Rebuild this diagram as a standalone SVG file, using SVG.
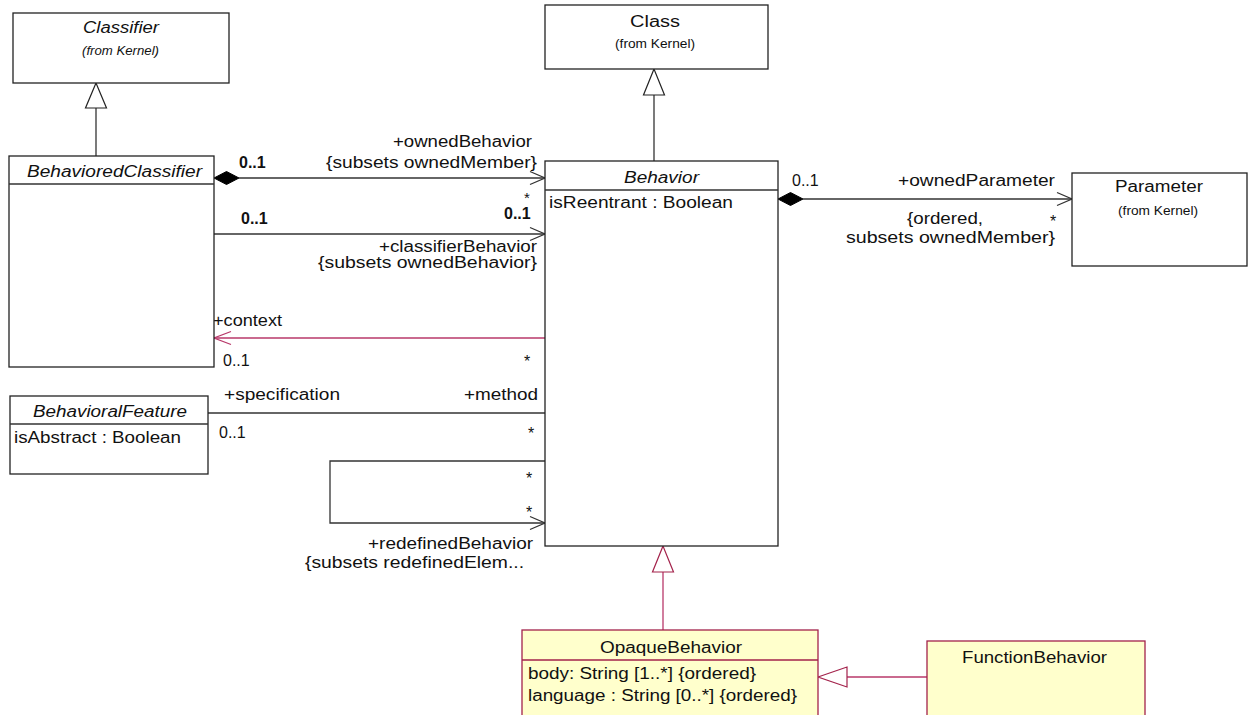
<svg xmlns="http://www.w3.org/2000/svg" width="1250" height="715" viewBox="0 0 1250 715">
<defs>
<style>
text{font-family:"Liberation Sans",Arial,sans-serif;font-size:16px;fill:#111}
.it{font-style:italic}
.sm{font-size:12px}
.b{font-weight:bold}
.ast{font-size:15px}
.box{fill:#fff;stroke:#222;stroke-width:1.3}
.ybox{fill:#ffffcc;stroke:#a3224b;stroke-width:1.3}
.ln{fill:none;stroke:#333;stroke-width:1.3}
.rl{fill:none;stroke:#b8386a;stroke-width:1.3}
.gen{fill:#fff;stroke:#222;stroke-width:1.2}
.rgen{fill:#fff;stroke:#a3224b;stroke-width:1.2}
.dia{fill:#000;stroke:#000;stroke-width:1}
</style>
</defs>
<rect width="1250" height="715" fill="#fff"/>

<g id="connectors">
  <!-- BehavioredClassifier -> Classifier generalization -->
  <line class="ln" x1="96" y1="108" x2="96" y2="156"/>
  <polygon class="gen" points="96,83 85.5,108 106.5,108"/>
  <!-- Behavior -> Class generalization -->
  <line class="ln" x1="654" y1="95" x2="654" y2="161"/>
  <polygon class="gen" points="654,69 643.5,95 664.5,95"/>
  <!-- ownedBehavior composition -->
  <line class="ln" x1="239" y1="178" x2="545" y2="178"/>
  <polygon class="dia" points="214,178 226.5,171.5 239,178 226.5,184.5"/>
  <polyline class="ln" points="530,171.5 545,178 530,184.5"/>
  <!-- classifierBehavior -->
  <line class="ln" x1="214" y1="234" x2="545" y2="234"/>
  <polyline class="ln" points="530,227.5 545,234 530,240.5"/>
  <!-- ownedParameter composition -->
  <line class="ln" x1="803" y1="199" x2="1072" y2="199"/>
  <polygon class="dia" points="778,199 790.5,192.5 803,199 790.5,205.5"/>
  <polyline class="ln" points="1057,192.5 1072,199 1057,205.5"/>
  <!-- context -->
  <line class="rl" x1="545" y1="338" x2="214" y2="338"/>
  <polyline class="rl" points="231,331.5 214,338 231,344.5"/>
  <!-- specification / method -->
  <line class="ln" x1="208" y1="413" x2="545" y2="413"/>
  <!-- redefinedBehavior self loop -->
  <polyline class="ln" points="545,461 330,461 330,523 545,523"/>
  <polyline class="ln" points="530,516.5 545,523 530,529.5"/>
  <!-- OpaqueBehavior -> Behavior generalization -->
  <line class="rl" x1="663" y1="572" x2="663" y2="630"/>
  <polygon class="rgen" points="663,546 652.5,572 673.5,572"/>
  <!-- FunctionBehavior -> OpaqueBehavior generalization -->
  <line class="rl" x1="847" y1="677" x2="927" y2="677"/>
  <polygon class="rgen" points="818,677 847,667 847,687"/>

  <!-- association labels -->
  <text x="393" y="147" textLength="139" lengthAdjust="spacingAndGlyphs">+ownedBehavior</text>
  <text x="326" y="168" textLength="211" lengthAdjust="spacingAndGlyphs">{subsets ownedMember}</text>
  <text class="b" x="239" y="168">0..1</text>
  <text class="ast" x="524" y="203">*</text>
  <text class="b" x="504" y="219">0..1</text>
  <text class="b" x="241" y="224">0..1</text>
  <text x="379" y="252" textLength="158" lengthAdjust="spacingAndGlyphs">+classifierBehavior</text>
  <text x="318" y="268" textLength="219" lengthAdjust="spacingAndGlyphs">{subsets ownedBehavior}</text>

  <text x="792" y="186">0..1</text>
  <text x="898" y="186" textLength="157" lengthAdjust="spacingAndGlyphs">+ownedParameter</text>
  <text x="907" y="224" textLength="76" lengthAdjust="spacingAndGlyphs">{ordered,</text>
  <text x="1050" y="227">*</text>
  <text x="846" y="243" textLength="209" lengthAdjust="spacingAndGlyphs">subsets ownedMember}</text>

  <text x="213" y="326" textLength="69" lengthAdjust="spacingAndGlyphs">+context</text>
  <text x="223" y="366">0..1</text>
  <text x="524" y="367">*</text>

  <text x="224" y="400" textLength="116" lengthAdjust="spacingAndGlyphs">+specification</text>
  <text x="464" y="400" textLength="74" lengthAdjust="spacingAndGlyphs">+method</text>
  <text x="219" y="438">0..1</text>
  <text x="528" y="439">*</text>

  <text x="526" y="484">*</text>
  <text x="526" y="518">*</text>
  <text x="368" y="549" textLength="165" lengthAdjust="spacingAndGlyphs">+redefinedBehavior</text>
  <text x="305" y="568" textLength="219" lengthAdjust="spacingAndGlyphs">{subsets redefinedElem...</text>
</g>

<g id="Classifier">
  <rect class="box" x="13" y="13" width="216" height="70"/>
  <text class="it" x="83" y="33" textLength="76" lengthAdjust="spacingAndGlyphs">Classifier</text>
  <text class="it sm" x="82" y="55" textLength="77" lengthAdjust="spacingAndGlyphs">(from Kernel)</text>
</g>

<g id="Class">
  <rect class="box" x="545" y="5" width="223" height="64"/>
  <text x="630" y="27" textLength="50" lengthAdjust="spacingAndGlyphs">Class</text>
  <text class="sm" x="615" y="48" textLength="80" lengthAdjust="spacingAndGlyphs">(from Kernel)</text>
</g>

<g id="BehavioredClassifier">
  <rect class="box" x="9" y="156" width="205" height="211"/>
  <line class="ln" x1="9" y1="184" x2="214" y2="184"/>
  <text class="it" x="27" y="177" textLength="175" lengthAdjust="spacingAndGlyphs">BehavioredClassifier</text>
</g>

<g id="Behavior">
  <rect class="box" x="545" y="161" width="233" height="385"/>
  <line class="ln" x1="545" y1="190" x2="778" y2="190"/>
  <text class="it" x="624" y="183" textLength="75" lengthAdjust="spacingAndGlyphs">Behavior</text>
  <text x="549" y="208" textLength="184" lengthAdjust="spacingAndGlyphs">isReentrant : Boolean</text>
</g>

<g id="Parameter">
  <rect class="box" x="1072" y="173" width="175" height="93"/>
  <text x="1115" y="192" textLength="88" lengthAdjust="spacingAndGlyphs">Parameter</text>
  <text class="sm" x="1118" y="215" textLength="80" lengthAdjust="spacingAndGlyphs">(from Kernel)</text>
</g>

<g id="BehavioralFeature">
  <rect class="box" x="10" y="396" width="198" height="78"/>
  <line class="ln" x1="10" y1="424" x2="208" y2="424"/>
  <text class="it" x="33" y="417" textLength="154" lengthAdjust="spacingAndGlyphs">BehavioralFeature</text>
  <text x="14" y="443" textLength="167" lengthAdjust="spacingAndGlyphs">isAbstract : Boolean</text>
</g>

<g id="OpaqueBehavior">
  <rect class="ybox" x="522" y="630" width="296" height="90"/>
  <line class="ybox" x1="522" y1="660" x2="818" y2="660"/>
  <text x="600" y="653" textLength="142" lengthAdjust="spacingAndGlyphs">OpaqueBehavior</text>
  <text x="528" y="679" textLength="228" lengthAdjust="spacingAndGlyphs">body: String [1..*] {ordered}</text>
  <text x="528" y="701" textLength="269" lengthAdjust="spacingAndGlyphs">language : String [0..*] {ordered}</text>
</g>

<g id="FunctionBehavior">
  <rect class="ybox" x="927" y="641" width="218" height="79"/>
  <text x="962" y="663" textLength="145" lengthAdjust="spacingAndGlyphs">FunctionBehavior</text>
</g>
</svg>
